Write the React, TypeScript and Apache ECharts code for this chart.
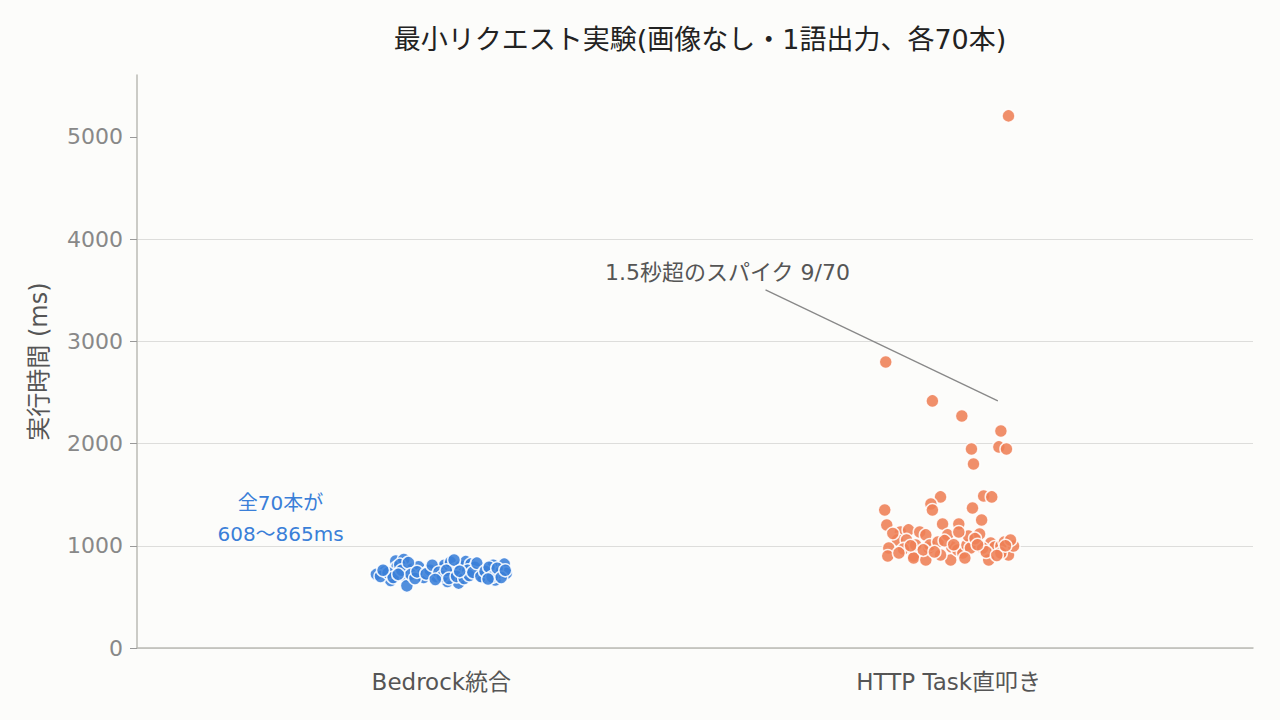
import { useEffect, useRef } from 'react';
import * as echarts from 'echarts';

const categories = ['Bedrock統合', 'HTTP Task直叩き'];

// [jitter, ms]
const bedrockPoints: [number, number][] = [
  [-0.128, 720], [-0.112, 745], [-0.1, 660], [-0.09, 850], [-0.088, 790], [-0.074, 865],
  [-0.072, 705], [-0.068, 608], [-0.058, 770], [-0.045, 795], [-0.04, 715], [-0.035, 690],
  [-0.025, 750], [-0.022, 760], [-0.01, 700], [-0.002, 780], [0.006, 810], [0.012, 650],
  [0.018, 840], [0.022, 720], [0.028, 770], [0.034, 635], [0.038, 800], [0.042, 730],
  [0.048, 845], [0.058, 820], [0.066, 790], [0.074, 730], [0.082, 690], [0.09, 770],
  [0.098, 720], [0.102, 810], [0.106, 665], [0.116, 740], [0.124, 820], [0.128, 730],
  [-0.12, 700], [-0.105, 735], [-0.095, 690], [-0.082, 815], [-0.078, 760], [-0.065, 835],
  [-0.06, 720], [-0.052, 680], [-0.048, 745], [-0.03, 725], [-0.018, 810], [-0.005, 740],
  [0.002, 700], [0.01, 760], [0.015, 680], [0.025, 860], [0.03, 700], [0.045, 680],
  [0.052, 760], [0.055, 710], [0.062, 740], [0.07, 830], [0.078, 700], [0.086, 750],
  [0.094, 790], [0.1, 695], [0.11, 780], [0.118, 690], [0.126, 760], [-0.115, 760],
  [-0.085, 720], [-0.012, 670], [0.036, 750], [0.092, 675],
];

const httpPoints: [number, number][] = [
  [0.118, 5205], [-0.124, 2798], [-0.032, 2417], [0.026, 2270], [0.103, 2123], [0.045, 1947],
  [0.099, 1967], [0.114, 1947], [0.049, 1800],
  [-0.126, 1350], [-0.016, 1478], [-0.035, 1409], [-0.032, 1350], [0.069, 1487], [0.085, 1478],
  [0.047, 1370],
  [-0.122, 1203], [-0.012, 1213], [0.02, 1213], [0.065, 1252], [-0.095, 1135], [-0.079, 1155],
  [-0.057, 1135], [-0.045, 1106], [-0.101, 1057], [-0.083, 1057], [-0.118, 978], [-0.12, 900],
  [-0.089, 969], [-0.069, 900], [-0.069, 880], [-0.039, 978], [-0.037, 1008], [-0.021, 1037],
  [0.006, 988], [0.004, 861], [0.018, 959], [0.028, 930], [0.036, 1008], [0.039, 1096],
  [0.061, 1115], [0.083, 1027], [0.079, 861], [0.091, 988], [0.103, 998], [0.11, 1037],
  [0.118, 910], [0.128, 998], [0.103, 930], [-0.045, 861], [-0.002, 1106], [0.02, 1135],
  [-0.016, 910], [0.043, 978], [0.067, 978], [-0.065, 1008], [0.122, 1057],
  [-0.11, 1120], [-0.075, 1000], [-0.05, 960], [-0.028, 940], [-0.008, 1050], [0.01, 1010],
  [0.032, 880], [0.052, 1070], [0.074, 940], [0.095, 905], [0.112, 1000], [-0.098, 930],
  [0.057, 1010],
];

const yTicks = [0, 1000, 2000, 3000, 4000, 5000];

const spikeLine: [number, number][] = [[0.639, 3503], [1.097, 2417]];
const spikeLabel = '1.5秒超のスパイク 9/70';
const spikeLabelPos: [number, number] = [0.564, 3670];
const rangeLabel = ['全70本が', '608〜865ms'];
const rangeLabelPos: [number, number][] = [[-0.317, 1420], [-0.317, 1115]];

const FONT = '"DejaVu Sans", "Noto Sans CJK JP", sans-serif';

export default function App() {
  const chartRef = useRef<HTMLDivElement>(null);

  useEffect(() => {
    if (!chartRef.current) return;
    const chart = echarts.init(chartRef.current, undefined, { renderer: 'svg' });

    const pointStyle = (color: string) => ({
      color,
      opacity: 0.88,
      borderColor: '#ffffff',
      borderWidth: 1.5,
    });

    chart.setOption({
      animation: false,
      backgroundColor: '#fcfcfa',
      textStyle: { fontFamily: FONT },
      title: {
        text: '最小リクエスト実験(画像なし・1語出力、各70本)',
        left: 695,
        textAlign: 'center',
        top: 21,
        textStyle: { fontSize: 27, fontWeight: 'normal', color: '#222', fontFamily: FONT },
      },
      grid: { left: 137, right: 27, top: 75, bottom: 72 },
      xAxis: {
        type: 'value',
        min: -0.6,
        max: 1.6,
        splitLine: { show: false },
        axisTick: { show: false },
        axisLine: { show: true, lineStyle: { color: '#bbbbb5', width: 1.5 } },
        axisLabel: {
          customValues: [0, 1],
          formatter: (v: number) => categories[Math.round(v)] ?? '',
          fontSize: 23,
          color: '#555',
          margin: 22,
          fontFamily: FONT,
        },
      },
      yAxis: {
        type: 'value',
        min: 0,
        max: 5605,
        interval: 1000,
        name: '実行時間 (ms)',
        nameLocation: 'middle',
        nameGap: 86,
        nameTextStyle: { fontSize: 24, color: '#555', fontFamily: FONT },
        axisLine: { show: true, onZero: false, lineStyle: { color: '#bbbbb5', width: 1.5 } },
        axisTick: { show: true, customValues: yTicks, length: 7, lineStyle: { color: '#999' } },
        axisLabel: {
          customValues: yTicks,
          formatter: (v: number) => String(v),
          fontSize: 22,
          color: '#888',
          margin: 14,
          fontFamily: FONT,
        },
        splitLine: { show: true, showMaxLine: false, lineStyle: { color: '#dddddb', width: 1.2 } },
      },
      series: [
        {
          type: 'scatter',
          name: categories[0],
          data: bedrockPoints.map(([j, v]) => [0 + j, v]),
          symbolSize: 13,
          itemStyle: pointStyle('#3a7fd8'),
        },
        {
          type: 'scatter',
          name: categories[1],
          data: httpPoints.map(([j, v]) => [1 + j, v]),
          symbolSize: 13,
          itemStyle: pointStyle('#ee7f55'),
          markLine: {
            silent: true,
            symbol: 'none',
            label: { show: false },
            lineStyle: { color: '#888', width: 1.3, type: 'solid' },
            data: [[{ coord: spikeLine[0] }, { coord: spikeLine[1] }]],
          },
        },
      ],
    });

    const sp = chart.convertToPixel({ gridIndex: 0 }, spikeLabelPos) as number[];
    const r0 = chart.convertToPixel({ gridIndex: 0 }, rangeLabelPos[0]) as number[];
    const r1 = chart.convertToPixel({ gridIndex: 0 }, rangeLabelPos[1]) as number[];

    chart.setOption({
      graphic: [
        {
          type: 'text',
          x: sp[0],
          y: sp[1],
          style: {
            text: spikeLabel,
            fill: '#555',
            font: `22px ${FONT}`,
            textAlign: 'center',
            textVerticalAlign: 'middle',
          },
        },
        {
          type: 'text',
          x: r0[0],
          y: r0[1],
          style: {
            text: rangeLabel[0],
            fill: '#3a7fd8',
            font: `20px ${FONT}`,
            textAlign: 'center',
            textVerticalAlign: 'middle',
          },
        },
        {
          type: 'text',
          x: r1[0],
          y: r1[1],
          style: {
            text: rangeLabel[1],
            fill: '#3a7fd8',
            font: `20px ${FONT}`,
            textAlign: 'center',
            textVerticalAlign: 'middle',
          },
        },
      ],
    });

    return () => chart.dispose();
  }, []);

  return (
    <div
      ref={chartRef}
      style={{ position: 'absolute', left: 0, top: 0, width: 1280, height: 720 }}
    />
  );
}
